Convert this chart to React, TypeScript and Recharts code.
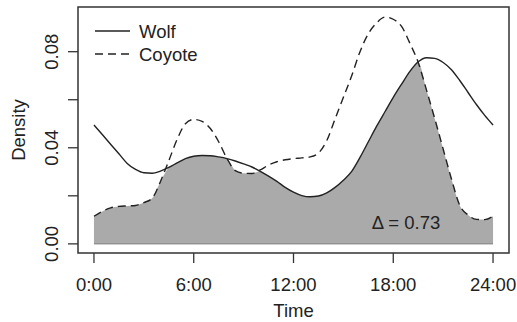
import React from 'react';
import {
    ComposedChart,
    Area,
    Line,
    XAxis,
    YAxis,
    ReferenceArea,
    ReferenceLine,
} from 'recharts';

// time of day (hours)
const hours = [
    0, 0.5, 1, 1.5, 2, 2.5, 3, 3.5, 4, 4.5, 5, 5.5, 6, 6.5, 7, 7.5, 8, 8.5, 9, 9.5,
    10, 10.5, 11, 11.5, 12, 12.5, 13, 13.5, 14, 14.5, 15, 15.5, 16, 16.5, 17, 17.5,
    18, 18.5, 19, 19.5, 20, 20.5, 21, 21.5, 22, 22.5, 23, 23.5, 24,
];

// kernel density
const wolf = [
    0.0495, 0.0455, 0.0415, 0.0375, 0.0335, 0.031, 0.0296, 0.0294, 0.0303, 0.0318,
    0.0337, 0.0355, 0.0365, 0.0368, 0.0367, 0.0362, 0.0355, 0.0345, 0.0333, 0.032,
    0.0302, 0.0282, 0.026, 0.0235, 0.0215, 0.0201, 0.0196, 0.0199, 0.0212, 0.0235,
    0.0265, 0.0302, 0.036, 0.0425, 0.049, 0.055, 0.061, 0.0665, 0.0718, 0.0758,
    0.0775, 0.0772, 0.0755, 0.0725, 0.068, 0.063, 0.058, 0.0535, 0.0495,
];

const coyote = [
    0.0115, 0.0135, 0.015, 0.0156, 0.0158, 0.016, 0.0172, 0.019, 0.026, 0.0346,
    0.0435, 0.05, 0.0518, 0.051, 0.048, 0.0425, 0.0355, 0.0305, 0.0294, 0.0293,
    0.0308, 0.0328, 0.0342, 0.035, 0.0355, 0.0358, 0.0362, 0.0378, 0.043, 0.052,
    0.061, 0.07, 0.08, 0.0875, 0.092, 0.0944, 0.0935, 0.0905, 0.0835, 0.0755,
    0.064, 0.052, 0.0395, 0.027, 0.016, 0.012, 0.0102, 0.0101, 0.0115,
];

const xTicks = [0, 6, 12, 18, 24];
const yTicks = [0, 0.02, 0.04, 0.06, 0.08];
const yLabelled = [0, 0.04, 0.08];
const seriesNames = ['Wolf', 'Coyote'];
const overlapLabel = '\u0394 = 0.73';

const xDomain = [-0.96, 24.96];
const yDomain = [-0.0038, 0.0986];

const data = hours.map((h, i) => ({
    h,
    wolf: wolf[i],
    coyote: coyote[i],
    overlap: Math.min(wolf[i], coyote[i]),
}));

const FONT = '"Liberation Sans", Arial, Helvetica, sans-serif';
const INK = '#222';
const FS = 18.5;
const DASH = '8 5';

const YTick = (props: any) => {
    const { x, y, payload } = props;
    if (!yLabelled.includes(payload.value)) return null;
    return (
        <text
            x={x}
            y={y}
            transform={`rotate(-90, ${x}, ${y})`}
            textAnchor="middle"
            fontSize={FS}
            fill={INK}
            fontFamily={FONT}
        >
            {payload.value.toFixed(2)}
        </text>
    );
};

const DensityLabel = (props: any) => {
    const vb = props.viewBox;
    const cy = vb.y + vb.height / 2;
    const cx = 25;
    return (
        <text
            x={cx}
            y={cy}
            transform={`rotate(-90, ${cx}, ${cy})`}
            textAnchor="middle"
            fontSize={FS}
            fill={INK}
            fontFamily={FONT}
        >
            Density
        </text>
    );
};

export default function App() {
    return (
        <div
            style={{
                position: 'absolute',
                left: 0,
                top: 0,
                width: 517,
                height: 322,
                background: '#fff',
                fontFamily: FONT,
            }}
        >
            <ComposedChart
                width={517}
                height={322}
                data={data}
                margin={{ top: 7, right: 8, bottom: 0, left: 0 }}
            >
                <XAxis
                    dataKey="h"
                    type="number"
                    domain={xDomain}
                    ticks={xTicks}
                    interval={0}
                    allowDataOverflow
                    tickFormatter={(h: number) => `${h}:00`}
                    tickSize={10}
                    tickMargin={15}
                    height={69}
                    axisLine={false}
                    tickLine={{ stroke: '#333', strokeWidth: 1.3 }}
                    tick={{ fill: INK, fontSize: FS, fontFamily: FONT }}
                    label={{ value: 'Time', position: 'insideBottom', offset: 5, fill: INK, fontSize: FS }}
                />
                <YAxis
                    type="number"
                    domain={yDomain}
                    ticks={yTicks}
                    interval={0}
                    allowDataOverflow
                    width={78}
                    tickSize={10}
                    tickMargin={10}
                    axisLine={false}
                    tickLine={{ stroke: '#333', strokeWidth: 1.3 }}
                    tick={<YTick />}
                    label={{ content: DensityLabel }}
                />
                <Area
                    dataKey="overlap"
                    type="monotone"
                    baseValue={0}
                    fill="#aaaaaa"
                    fillOpacity={1}
                    stroke="none"
                    isAnimationActive={false}
                />
                <ReferenceLine
                    segment={[{ x: xTicks[0], y: 0 }, { x: xTicks[xTicks.length - 1], y: 0 }]}
                    stroke="#777"
                    strokeWidth={1}
                />
                <Line
                    dataKey="wolf"
                    name={seriesNames[0]}
                    type="monotone"
                    stroke={INK}
                    strokeWidth={1.4}
                    dot={false}
                    isAnimationActive={false}
                />
                <Line
                    dataKey="coyote"
                    name={seriesNames[1]}
                    type="monotone"
                    stroke={INK}
                    strokeWidth={1.4}
                    strokeDasharray={DASH}
                    dot={false}
                    isAnimationActive={false}
                />
                <ReferenceArea
                    x1={xDomain[0]}
                    x2={xDomain[1]}
                    y1={yDomain[0]}
                    y2={yDomain[1]}
                    fill="none"
                    stroke="#333"
                    strokeWidth={1.5}
                    ifOverflow="visible"
                />
            </ComposedChart>
            <svg
                width={517}
                height={322}
                style={{ position: 'absolute', left: 0, top: 0, pointerEvents: 'none' }}
            >
                {seriesNames.map((name, i) => (
                    <g key={name}>
                        <line
                            x1={95}
                            x2={130}
                            y1={31 + i * 23}
                            y2={31 + i * 23}
                            stroke={INK}
                            strokeWidth={1.4}
                            strokeDasharray={i === 1 ? DASH : undefined}
                        />
                        <text
                            x={139}
                            y={31 + i * 23}
                            dominantBaseline="central"
                            fontSize={FS}
                            fill={INK}
                            fontFamily={FONT}
                        >
                            {name}
                        </text>
                    </g>
                ))}
                <text
                    x={406}
                    y={222}
                    textAnchor="middle"
                    dominantBaseline="central"
                    fontSize={FS}
                    fill={INK}
                    fontFamily={FONT}
                >
                    {overlapLabel}
                </text>
            </svg>
        </div>
    );
}
